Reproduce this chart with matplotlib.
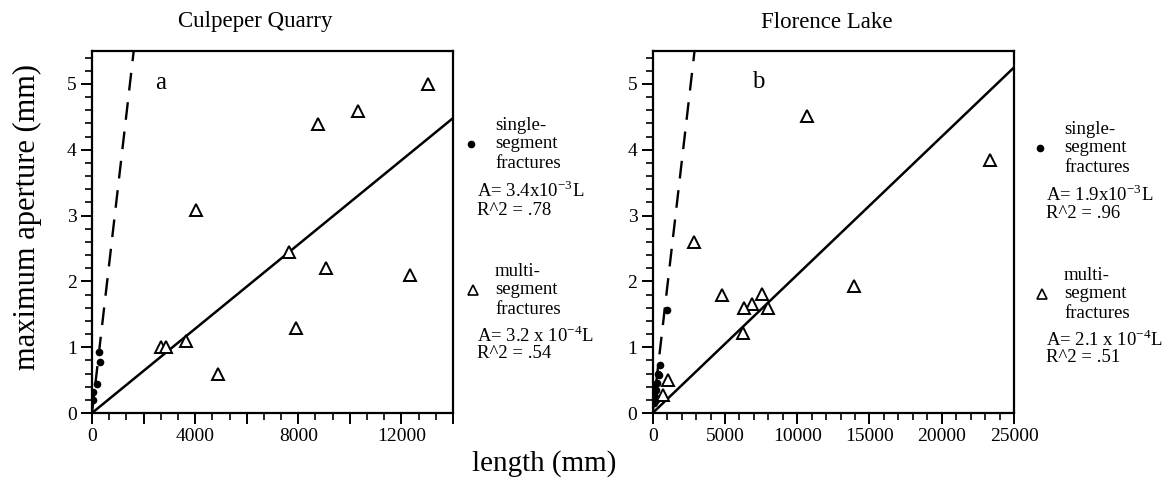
import matplotlib
matplotlib.use("Agg")
import matplotlib.pyplot as plt
from matplotlib.ticker import MultipleLocator, FuncFormatter

plt.rcParams['font.family'] = ['Liberation Serif', 'DejaVu Serif']
plt.rcParams['mathtext.fontset'] = 'custom'
plt.rcParams['mathtext.rm'] = 'Liberation Serif'

# Culpeper Quarry
cq_single_len = [20, 50, 180, 270, 310]
cq_single_ap = [0.20, 0.32, 0.44, 0.92, 0.77]
cq_multi_len = [13030, 10320, 8770, 4030, 7640, 9070, 12350, 7900, 2680, 2880, 3650, 4870]
cq_multi_ap = [5.00, 4.59, 4.39, 3.09, 2.45, 2.21, 2.10, 1.29, 1.01, 1.00, 1.09, 0.59]
cq_single_slope = 3.4e-3
cq_multi_slope = 3.2e-4

# Florence Lake
fl_single_len = [968, 505, 440, 350, 300, 200, 150, 250, 100, 80, 60]
fl_single_ap = [1.56, 0.73, 0.57, 0.60, 0.45, 0.35, 0.25, 0.20, 0.15, 0.30, 0.42]
fl_multi_len = [10650, 23360, 2880, 4770, 7540, 6840, 6310, 8000, 13920, 6220, 1040, 690]
fl_multi_ap = [4.51, 3.84, 2.60, 1.80, 1.81, 1.66, 1.60, 1.60, 1.93, 1.22, 0.50, 0.28]
fl_single_slope = 1.9e-3
fl_multi_slope = 2.1e-4

W, H = 1172, 494
fig = plt.figure(figsize=(W / 100, H / 100), dpi=100)


def px(x, y):
    return x / W, 1 - y / H


def draw_panel(rect, single_len, single_ap, multi_len, multi_ap,
               s_slope, m_slope, xmax, major, minor, label_every, letter, letter_xy):
    ax = fig.add_axes(rect)
    ax.set_xlim(0, xmax)
    ax.set_ylim(0, 5.5)
    # fit lines through the origin
    ymax = 5.5
    ax.plot([0, ymax / s_slope], [0, ymax], color='black', lw=1.7,
            dashes=(7.5, 5), zorder=2)
    ax.plot([0, xmax], [0, m_slope * xmax], color='black', lw=1.8, zorder=2)
    ax.plot(single_len, single_ap, 'o', color='black', ms=4.5, zorder=3)
    ax.plot(multi_len, multi_ap, '^', mfc='white', mec='black', mew=1.4,
            ms=9, zorder=3)
    ax.text(letter_xy[0], letter_xy[1], letter, fontsize=18, ha='center', va='center')

    ax.xaxis.set_major_locator(MultipleLocator(major))
    ax.xaxis.set_minor_locator(MultipleLocator(minor))
    ax.xaxis.set_major_formatter(FuncFormatter(
        lambda v, p: f"{int(v)}" if v % label_every == 0 else ""))
    ax.yaxis.set_major_locator(MultipleLocator(1))
    ax.yaxis.set_minor_locator(MultipleLocator(0.2))
    ax.tick_params(which='major', direction='out', length=8, width=1.4,
                   labelsize=14, pad=3)
    ax.tick_params(which='minor', direction='out', length=5, width=1.2)
    for s in ax.spines.values():
        s.set_linewidth(1.6)
    return ax


ax1 = draw_panel([92 / W, 1 - 413 / H, 361 / W, 362 / H],
                 cq_single_len, cq_single_ap, cq_multi_len, cq_multi_ap,
                 cq_single_slope, cq_multi_slope, 14000, 2000, 2000 / 3, 4000,
                 'a', (2650, 5.02))
ax2 = draw_panel([652.7 / W, 1 - 413 / H, 361.3 / W, 362 / H],
                 fl_single_len, fl_single_ap, fl_multi_len, fl_multi_ap,
                 fl_single_slope, fl_multi_slope, 25000, 5000, 1000, 5000,
                 'b', (7300, 5.03))

fig.text(*px(255, 22), 'Culpeper Quarry', fontsize=16.5, ha='center', va='center')
fig.text(*px(827, 22), 'Florence Lake', fontsize=16.5, ha='center', va='center')
fig.text(*px(27, 217), 'maximum aperture (mm)', fontsize=22, rotation=90,
         ha='center', va='center')
fig.text(*px(544, 464), 'length (mm)', fontsize=21, ha='center', va='center')


def legend_block(x0, y0, s_eq, s_r2, m_eq, m_r2):
    fs = 13.5
    fig.text(*px(x0 + 24, y0 - 19), 'single-', fontsize=fs, va='center')
    fig.text(*px(x0 + 24, y0), 'segment', fontsize=fs, va='center')
    fig.text(*px(x0 + 24, y0 + 19), 'fractures', fontsize=fs, va='center')
    fig.text(*px(x0 + 6, y0 + 47), s_eq, fontsize=fs, va='center')
    fig.text(*px(x0 + 6, y0 + 66), s_r2, fontsize=fs, va='center')
    fig.lines.append(plt.Line2D([px(x0, y0)[0]], [px(x0, y0)[1]], marker='o',
                                color='black', ms=4.5, transform=fig.transFigure))
    y1 = y0 + 146
    fig.text(*px(x0 + 24, y1 - 19), 'multi-', fontsize=fs, va='center')
    fig.text(*px(x0 + 24, y1), 'segment', fontsize=fs, va='center')
    fig.text(*px(x0 + 24, y1 + 19), 'fractures', fontsize=fs, va='center')
    fig.text(*px(x0 + 6, y1 + 46), m_eq, fontsize=fs, va='center')
    fig.text(*px(x0 + 6, y1 + 64), m_r2, fontsize=fs, va='center')
    fig.lines.append(plt.Line2D([px(x0 + 2, y1)[0]], [px(x0 + 2, y1)[1]], marker='^',
                                mfc='white', mec='black', mew=1.2, ms=7,
                                transform=fig.transFigure))


legend_block(471, 144, r'A= 3.4x10$^{\mathregular{-3}}$L', 'R^2 = .78',
             r'A= 3.2 x 10$^{\mathregular{-4}}$L', 'R^2 = .54')
legend_block(1040, 148, r'A= 1.9x10$^{\mathregular{-3}}$L', 'R^2 = .96',
             r'A= 2.1 x 10$^{\mathregular{-4}}$L', 'R^2 = .51')

fig.savefig('out.png', dpi=100)
